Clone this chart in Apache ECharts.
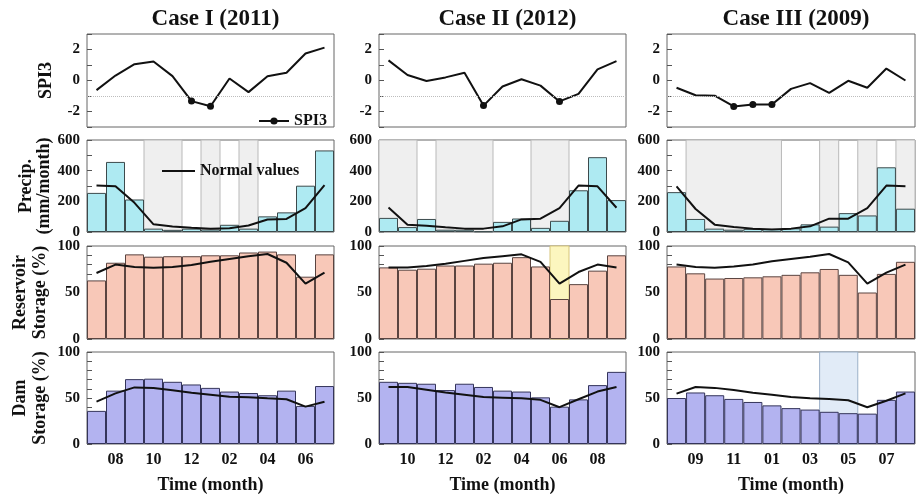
<!DOCTYPE html>
<html><head><meta charset="utf-8">
<script src="https://cdn.jsdelivr.net/npm/echarts@6/dist/echarts.min.js"></script>
<style>html,body{margin:0;padding:0;background:#fff}#c{width:917px;height:496px}</style>
</head><body><div id="c"></div><script>
// ---- data ----
const titles = ['Case I (2011)', 'Case II (2012)', 'Case III (2009)'];
const months1 = ['07','08','09','10','11','12','01','02','03','04','05','06','07'];
const months2 = ['09','10','11','12','01','02','03','04','05','06','07','08','09'];
const months3 = ['08','09','10','11','12','01','02','03','04','05','06','07','08'];

const spi1 = [-0.62, 0.32, 1.05, 1.23, 0.28, -1.33, -1.66, 0.13, -0.75, 0.28, 0.5, 1.74, 2.12];
const spi2 = [1.3, 0.35, -0.03, 0.2, 0.5, -1.62, -0.39, 0.08, -0.33, -1.35, -0.86, 0.72, 1.25];
const spi3 = [-0.47, -0.95, -0.98, -1.67, -1.55, -1.55, -0.54, -0.17, -0.8, -0.02, -0.47, 0.77, 0.0];

const precip1 = [255, 457, 212, 22, 14, 22, 16, 47, 22, 102, 128, 302, 532];
const precipNormal1 = [303, 298, 190, 50, 36, 27, 22, 25, 42, 82, 85, 155, 305];
const precip2 = [92, 32, 85, 15, 15, 4, 66, 88, 27, 73, 272, 488, 208];
const precipNormal2 = [160, 48, 41, 31, 22, 22, 37, 82, 87, 156, 303, 298, 158];
const precip3 = [260, 85, 22, 15, 20, 20, 24, 50, 35, 123, 108, 422, 152];
const precipNormal3 = [297, 150, 48, 33, 22, 17, 22, 37, 87, 87, 156, 303, 298];

const reservoir1 = [63, 82, 91, 88.5, 89, 89, 90, 90, 93, 94, 91, 67, 91];
const reservoirNormal1 = [71, 80, 77.5, 76.7, 77.5, 79.6, 83, 86, 89, 91.4, 82, 59.5, 71.3];
const reservoir2 = [77, 74.5, 75.6, 79, 79, 81, 82, 88, 78, 43, 59, 73.5, 90];
const reservoirNormal2 = [77, 77, 78.5, 81, 84, 87, 89, 91, 83, 59.5, 72, 80, 77];
const reservoir3 = [78, 70.6, 65, 65.6, 66.3, 67.4, 69, 71.7, 75.3, 69, 50, 70, 83];
const reservoirNormal3 = [80, 77.4, 76.7, 78, 80, 83.5, 86, 88.5, 91.4, 82.4, 59.5, 71.3, 80];

const dam1 = [36, 58, 70.5, 71, 67.6, 64.7, 61, 57, 55.4, 53, 58, 41.4, 63];
const damNormal1 = [46, 55, 61.5, 60.8, 58.3, 55.8, 53.6, 51.4, 50.7, 49.6, 48.6, 40.6, 46];
const dam2 = [67.6, 66.5, 65.5, 58.6, 65.5, 62, 58, 57, 50.7, 40.6, 48.5, 64, 78.4];
const damNormal2 = [62, 62, 59, 56, 53.6, 51, 50.4, 49.6, 48, 40, 48.6, 57, 62];
const dam3 = [50, 56, 53, 49, 45.7, 42, 39, 37.4, 35, 33.5, 33, 48, 57];
const damNormal3 = [54.7, 62, 61, 58.6, 55.8, 53.6, 51, 49.6, 49, 47.5, 40, 47, 55];

// shaded month spans [startIndex, endIndex)
const precipShade1 = [[3, 5], [6, 7], [8, 9]];
const precipShade2 = [[0, 2], [3, 6], [8, 10]];
const precipShade3 = [[1, 6], [8, 9], [10, 11], [12, 13]];
const reservoirShade2 = [[9, 10]];
const damShade3 = [[8, 10]];

const rowNames = ['SPI3', 'Precip.\n(mm/month)', 'Reservoir\nStorage (%)', 'Dam\nStorage (%)'];

// ---- layout / style ----
const FONT = "'Liberation Serif', 'Times New Roman', serif";
const colLeft = [87, 379, 667], colWidth = [247, 247, 248];
const rowTop = [34, 140, 246, 352], rowHeight = [93, 92, 93, 92];
const nameGaps = [31, 32, 37, 37];
const nameLineHeights = [20, 18, 20, 20];

const cols = [
  {months: months1, spi: spi1, p: precip1, pn: precipNormal1, r: reservoir1, rn: reservoirNormal1, d: dam1, dn: damNormal1, ps: precipShade1, rs: [], ds: []},
  {months: months2, spi: spi2, p: precip2, pn: precipNormal2, r: reservoir2, rn: reservoirNormal2, d: dam2, dn: damNormal2, ps: precipShade2, rs: reservoirShade2, ds: []},
  {months: months3, spi: spi3, p: precip3, pn: precipNormal3, r: reservoir3, rn: reservoirNormal3, d: dam3, dn: damNormal3, ps: precipShade3, rs: [], ds: damShade3}
];

const yCfg = [
  {min: -3, max: 3, interval: 1, step: 2},
  {min: 0, max: 600, interval: 100, step: 200},
  {min: 0, max: 100, interval: 10, step: 50},
  {min: 0, max: 100, interval: 10, step: 50}
];
const barColors = [null, '#aeeaf2', '#f8c8b8', '#b3b3f0'];
const barBorders = [null, '#3c4a4c', '#5a4440', '#34345a'];
const shadeStyles = {
  gray: {color: '#efefef', borderColor: '#b9b9b9', borderWidth: 1},
  yellow: {color: '#fcf6bf', borderColor: '#d6c57a', borderWidth: 1},
  blue: {color: '#e1ebf7', borderColor: '#9bb0c8', borderWidth: 1}
};

const grid = [], xAxis = [], yAxis = [], series = [], title = [];

cols.forEach((col, c) => {
  title.push({
    text: titles[c], left: colLeft[c] + colWidth[c] / 2, top: 3, textAlign: 'center',
    textStyle: {fontFamily: FONT, fontWeight: 'bold', fontSize: 23, color: '#111'}
  });
  for (let r = 0; r < 4; r++) {
    const gi = c * 4 + r;
    grid.push({left: colLeft[c], top: rowTop[r], width: colWidth[c], height: rowHeight[r],
      show: true, borderColor: '#666', borderWidth: 1, backgroundColor: 'transparent'});
    xAxis.push({
      type: 'category', gridIndex: gi, data: col.months, boundaryGap: true,
      axisLine: {show: false}, axisTick: {show: false}, splitLine: {show: false},
      axisLabel: {show: r === 3, interval: (i) => i % 2 === 1, margin: 8,
        fontFamily: FONT, fontWeight: 'bold', fontSize: 16, color: '#111'},
      name: r === 3 ? 'Time (month)' : '', nameLocation: 'middle', nameGap: 32,
      nameTextStyle: {fontFamily: FONT, fontWeight: 'bold', fontSize: 18, color: '#111'}
    });
    xAxis.push({type: 'value', gridIndex: gi, min: 0, max: 13, show: false});
    const yc = yCfg[r];
    yAxis.push({
      type: 'value', gridIndex: gi, min: yc.min, max: yc.max, interval: yc.interval,
      axisLine: {show: false}, splitLine: {show: false},
      axisTick: {show: true, inside: true, length: 5, lineStyle: {color: '#555'}},
      axisLabel: {margin: 7, fontFamily: FONT, fontWeight: 'bold', fontSize: 15, color: '#111',
        formatter: (v) => (Math.round(v) % yc.step === 0 ? String(v) : '')},
      name: c === 0 ? rowNames[r] : '', nameLocation: 'middle', nameRotate: 90,
      nameGap: nameGaps[r],
      nameTextStyle: {fontFamily: FONT, fontWeight: 'bold', fontSize: 18, color: '#111', lineHeight: nameLineHeights[r]}
    });
    const xc = 2 * gi, xv = 2 * gi + 1;
    const addShade = (spans, style) => {
      if (!spans.length) return;
      series.push({type: 'line', xAxisIndex: xv, yAxisIndex: gi, data: [], silent: true, z: 0,
        markArea: {silent: true, itemStyle: style, data: spans.map(([s, e]) => [{xAxis: s}, {xAxis: e}])}});
    };
    if (r === 0) {
      series.push({
        name: 'SPI3', type: 'line', xAxisIndex: xc, yAxisIndex: gi, data: col.spi,
        symbol: 'circle', symbolSize: (v) => (v < -1 ? 7 : 0), showAllSymbol: true,
        lineStyle: {color: '#111', width: 2}, itemStyle: {color: '#111'}, z: 4,
        markLine: {silent: true, symbol: ['none', 'none'], label: {show: false},
          lineStyle: {color: '#bdbdbd', type: 'dotted', width: 1}, data: [{yAxis: -1}]}
      });
    } else {
      const vals = r === 1 ? col.p : r === 2 ? col.r : col.d;
      const norm = r === 1 ? col.pn : r === 2 ? col.rn : col.dn;
      if (r === 1) addShade(col.ps, shadeStyles.gray);
      if (r === 2) addShade(col.rs, shadeStyles.yellow);
      if (r === 3) addShade(col.ds, shadeStyles.blue);
      series.push({
        name: ['', 'Precipitation', 'Reservoir storage', 'Dam storage'][r], type: 'bar',
        xAxisIndex: xc, yAxisIndex: gi, data: vals, barWidth: '100%', z: 2,
        itemStyle: {color: barColors[r], borderColor: barBorders[r], borderWidth: 1}
      });
      series.push({
        name: 'Normal values', type: 'line', xAxisIndex: xc, yAxisIndex: gi, data: norm,
        symbol: 'none', lineStyle: {color: '#111', width: 2}, itemStyle: {color: '#111'}, z: 4
      });
    }
  }
});

const chart = echarts.init(document.getElementById('c'), null, {renderer: 'canvas'});
chart.setOption({
  animation: false,
  backgroundColor: '#fff',
  title: title,
  legend: [
    {data: ['SPI3'], left: 253, top: 108, itemWidth: 30, itemHeight: 9, selectedMode: false,
      textStyle: {fontFamily: FONT, fontWeight: 'bold', fontSize: 16, color: '#111'}},
    {data: [{name: 'Normal values', icon: 'rect'}], left: 157, top: 158, itemWidth: 33, itemHeight: 2,
      selectedMode: false, textStyle: {fontFamily: FONT, fontWeight: 'bold', fontSize: 16, color: '#111'}}
  ],
  grid: grid, xAxis: xAxis, yAxis: yAxis, series: series
});
</script></body></html>
